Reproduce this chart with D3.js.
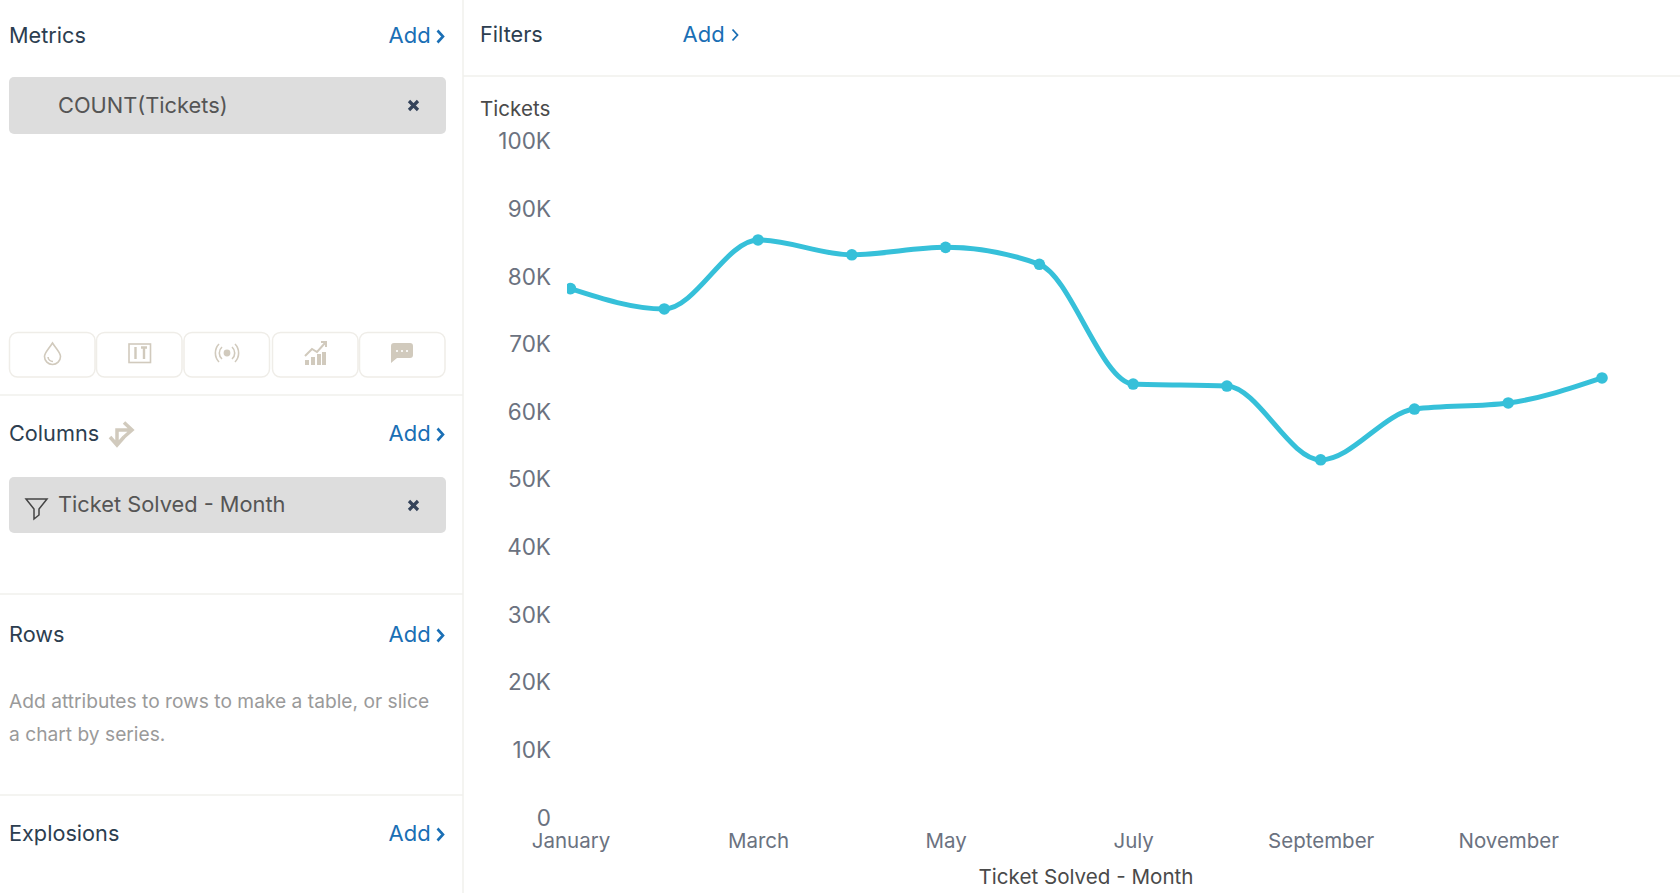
<!DOCTYPE html>
<html>
<head>
<meta charset="utf-8">
<title>Tickets by month</title>
<script src="https://cdn.jsdelivr.net/npm/d3@7"></script>
<style>
  html, body { margin: 0; padding: 0; background: #fff; overflow: hidden; }
  text { font-family: Inter, "Noto Sans", sans-serif; }
</style>
</head>
<body>
<div id="chart"></div>
<script>
// Chart values
const months = ["January", "February", "March", "April", "May", "June", "July",
                "August", "September", "October", "November", "December"];
const tickets = [78250, 75250, 85450, 83250, 84350, 81850, 64150, 63850, 52950, 60450, 61350, 65050];
const yTicks = [0, 10000, 20000, 30000, 40000, 50000, 60000, 70000, 80000, 90000, 100000];
const xTicks = ["January", "March", "May", "July", "September", "November"];

const width = 1680, height = 893;
const lineColor = "#36c0d9", ruleColor = "#f1f0ec", iconColor = "#d1cabd";
const navy = "#2c3e50", blue = "#1a6fb5";

const svg = d3.select("#chart").append("svg")
    .attr("width", width)
    .attr("height", height)
    .style("display", "block");

// Panel rules
const rule = (x1, y1, x2, y2) => svg.append("line")
    .attr("x1", x1).attr("y1", y1).attr("x2", x2).attr("y2", y2)
    .attr("stroke", ruleColor).attr("stroke-width", 1.5);

rule(463, 0, 463, height);
rule(463, 76, width, 76);
rule(0, 395, 463, 395);
rule(0, 594, 463, 594);
rule(0, 795, 463, 795);

const label = (s, x, y, size, fill, anchor) => svg.append("text")
    .attr("x", x).attr("y", y)
    .attr("font-size", size)
    .attr("fill", fill)
    .attr("text-anchor", anchor || "start")
    .text(s);

function addLink(x, y, thin) {
    label("Add", x, y, 22, blue);
    svg.append("path")
        .attr("d", thin ? `M${x + 50} ${y - 12} l5 5.5 l-5 5.5` : `M${x + 49} ${y - 12.5} l5.5 6 l-5.5 6`)
        .attr("fill", "none")
        .attr("stroke", blue)
        .attr("stroke-width", thin ? 1.8 : 2.6);
}

// Left panel headings
label("Metrics", 9, 43, 21.7, navy);
addLink(388.5, 43);
label("Columns", 9, 441, 21.7, navy);
addLink(388.5, 441);
label("Rows", 9, 642, 21.7, navy);
addLink(388.5, 642);
label("Explosions", 9, 841, 21.7, navy);
addLink(388.5, 841);
label("Filters", 480, 41.5, 21.7, navy);
addLink(682.5, 41.5, true);

label("Add attributes to rows to make a table, or slice", 9, 708, 19.2, "#9a9a9a");
label("a chart by series.", 9, 741, 19.2, "#9a9a9a");

// Pills
function pill(y, h, s, textY) {
    svg.append("rect")
        .attr("x", 9).attr("y", y).attr("width", 437).attr("height", h)
        .attr("rx", 5).attr("fill", "#dddddd");
    label(s, 58, textY, 21.8, "#555555");
    svg.append("path")
        .attr("d", `M409 ${y + 24} l9 9 M418 ${y + 24} l-9 9`)
        .attr("stroke", "#34435a").attr("stroke-width", 3.2);
}
pill(77, 57, "COUNT(Tickets)", 113);
pill(477, 56, "Ticket Solved - Month", 512);

// Funnel on the second pill
svg.append("path")
    .attr("d", "M26 499 h21 l-8 10 v6 l-5 4 v-10 z")
    .attr("fill", "none").attr("stroke", "#444").attr("stroke-width", 1.5);

// Swap icon next to Columns
svg.append("path")
    .attr("d", "M117 443 v-13 h14 M124 422.5 l8 7.5 l-8 7 M110 437 l7 8 l7 -8")
    .attr("fill", "none").attr("stroke", iconColor).attr("stroke-width", 3.5);

// Toolbar buttons
const buttonX = [9.5, 96.5, 184, 272.5, 359.5];
svg.selectAll(".tool").data(buttonX).enter().append("rect")
    .attr("class", "tool")
    .attr("x", d => d)
    .attr("y", 332.5)
    .attr("width", 85.5)
    .attr("height", 44.5)
    .attr("rx", 8)
    .attr("fill", "#fff")
    .attr("stroke", "#efede8")
    .attr("stroke-width", 1.5);

const icons = svg.append("g").attr("fill", "none").attr("stroke", iconColor).attr("stroke-width", 1.6);
// drop
icons.append("path").attr("d", "M52.5 343 C48 350 44.5 353 44.5 356.5 a8 8 0 0 0 16 0 C60.5 353 57 350 52.5 343 z");
icons.append("path").attr("d", "M48 357 a5 5 0 0 0 5 4.5");
// text box
icons.append("rect").attr("x", 129).attr("y", 344).attr("width", 21.5).attr("height", 18.5);
icons.append("path").attr("d", "M135.5 347 v12 M144 347 v12 M141 347.5 h6").attr("stroke-width", 2.4);
// broadcast
icons.append("circle").attr("cx", 227).attr("cy", 353).attr("r", 2.6).attr("fill", iconColor);
icons.append("path").attr("d", "M222 347 a8 8 0 0 0 0 12 M232 347 a8 8 0 0 1 0 12 M219 344 a13 13 0 0 0 0 18 M235 344 a13 13 0 0 1 0 18");
// trend bars
const bars = icons.append("g").attr("fill", iconColor).attr("stroke", "none");
[[305, 360, 4, 5], [311, 357, 4, 8], [317, 354, 4, 11], [322, 352, 4, 13]].forEach(b =>
    bars.append("rect").attr("x", b[0]).attr("y", b[1]).attr("width", b[2]).attr("height", b[3]));
icons.append("path").attr("d", "M305 356 l7 -7 l5 3 l8 -9 M321 342 h5 v5").attr("stroke-width", 2);
// comment
icons.append("path")
    .attr("d", "M394 343 h16 a3 3 0 0 1 3 3 v9 a3 3 0 0 1 -3 3 h-13 l-6 5 v-17 a3 3 0 0 1 3 -3 z")
    .attr("fill", iconColor).attr("stroke", "none");
icons.append("g").attr("fill", "#fff").attr("stroke", "none")
    .selectAll("circle").data([397, 402, 407]).enter().append("circle")
    .attr("cx", d => d).attr("cy", 351).attr("r", 1.1);

// Chart
const xScale = d3.scalePoint().domain(months).range([570.5, 1602]);
const yScale = d3.scaleLinear().domain([0, 100000]).range([818, 141.5]);

const yAxis = svg.append("g")
    .attr("transform", "translate(551, 0)")
    .call(d3.axisLeft(yScale)
        .tickValues(yTicks)
        .tickSize(0)
        .tickPadding(0)
        .tickFormat(d => d === 0 ? "0" : (d / 1000) + "K"));

const xAxis = svg.append("g")
    .attr("transform", "translate(0, 833)")
    .call(d3.axisBottom(xScale)
        .tickValues(xTicks)
        .tickSize(0)
        .tickPadding(0));

[yAxis, xAxis].forEach(axis => {
    axis.select(".domain").remove();
    axis.selectAll("text")
        .attr("fill", "#6b7280")
        .style("font-family", "Inter, sans-serif");
});
yAxis.selectAll("text").attr("font-size", 22.5);
xAxis.selectAll("text").attr("font-size", 20.5);

label("Tickets", 480, 116, 20.6, "#4a4a4a");
label("Ticket Solved - Month", 1086, 884, 20.6, "#4a4a4a", "middle");

// First point is cut by the plot edge
svg.append("clipPath").attr("id", "plot")
    .append("rect").attr("x", 567).attr("y", 100).attr("width", 1100).attr("height", 740);

const plot = svg.append("g").attr("clip-path", "url(#plot)");

const line = d3.line()
    .x((d, i) => xScale(months[i]))
    .y(d => yScale(d))
    .curve(d3.curveMonotoneX);

plot.append("path")
    .datum(tickets)
    .attr("fill", "none")
    .attr("stroke", lineColor)
    .attr("stroke-width", 5)
    .attr("d", line);

plot.selectAll(".dot").data(tickets).enter().append("circle")
    .attr("class", "dot")
    .attr("cx", (d, i) => xScale(months[i]))
    .attr("cy", d => yScale(d))
    .attr("r", 5.8)
    .attr("fill", lineColor);
</script>
</body>
</html>
